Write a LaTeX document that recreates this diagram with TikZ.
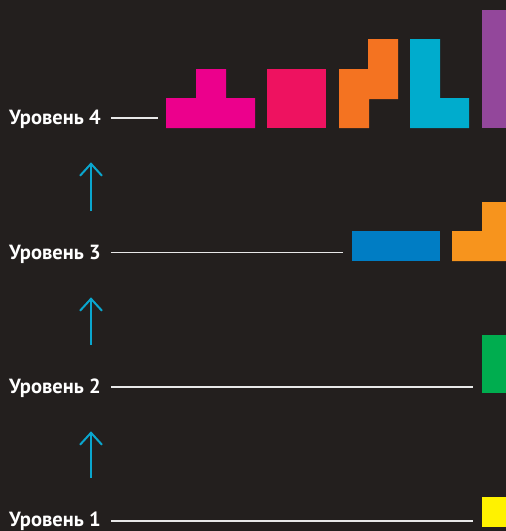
\documentclass[tikz,border=0pt]{standalone}
\usepackage{fontspec}
\setmainfont{PT Sans}
\usetikzlibrary{arrows.meta}
\definecolor{bgdark}{HTML}{231F1E}
\definecolor{tmagenta}{HTML}{EC008C}
\definecolor{ored}{HTML}{EE1260}
\definecolor{sorange}{HTML}{F47321}
\definecolor{lcyan}{HTML}{00ACCD}
\definecolor{ipurple}{HTML}{93479B}
\definecolor{iblue}{HTML}{007DC4}
\definecolor{jorange}{HTML}{F7941D}
\definecolor{igreen}{HTML}{00AD4F}
\definecolor{oyellow}{HTML}{FFF200}
\definecolor{arrowcyan}{HTML}{0AA6CE}
\definecolor{linegray}{HTML}{E8E8E8}

\begin{document}
\begin{tikzpicture}[x=1pt,y=-1pt,font=\bfseries\fontsize{20.5}{24}\selectfont,
  level/.style={anchor=base west,text=white,inner sep=0pt},
  levelline/.style={draw=linegray,line width=1.3pt},
  uparrow/.style={draw=arrowcyan,line width=2pt,shorten <=33pt,shorten >=34pt,-{Straight Barb[length=12pt,width=22pt]}}]
\fill[bgdark] (0,0) rectangle (506,531);
\useasboundingbox (0,0) rectangle (506,531);
\fill[tmagenta] (166,98) rectangle (255,128) (196,69) rectangle (226,98);
\fill[ored] (267,69) rectangle (326,128);
\fill[sorange] (339,69) rectangle (369,128) (368,39) rectangle (398,99);
\fill[lcyan] (410,39) rectangle (440,128) (439,98) rectangle (469,128);
\fill[ipurple] (482,10) rectangle (506,128);
\fill[iblue] (352,231) rectangle (440,261);
\fill[jorange] (452,231) rectangle (506,261) (482,202) rectangle (506,232);
\fill[igreen] (482,335) rectangle (506,393);
\fill[oyellow] (482,497) rectangle (506,527);
\node[level] (lvl4) at (9,124) {Уровень 4};
\node[level] (lvl3) at (9,259) {Уровень 3};
\node[level] (lvl2) at (9,393) {Уровень 2};
\node[level] (lvl1) at (9,526) {Уровень 1};
\coordinate (end4) at (158,118);
\coordinate (end3) at (343,252.5);
\coordinate (end2) at (473,387);
\coordinate (end1) at (473,521);
\draw[levelline] ([xshift=10pt]lvl4.east |- end4) -- (end4);
\draw[levelline] ([xshift=10pt]lvl3.east |- end3) -- (end3);
\draw[levelline] ([xshift=10pt]lvl2.east |- end2) -- (end2);
\draw[levelline] ([xshift=10pt]lvl1.east |- end1) -- (end1);
\draw[uparrow] ([xshift=82pt]lvl3.north west) -- ([xshift=82pt]lvl4.south west);
\draw[uparrow] ([xshift=82pt]lvl2.north west) -- ([xshift=82pt]lvl3.south west);
\draw[uparrow] ([xshift=82pt]lvl1.north west) -- ([xshift=82pt]lvl2.south west);
\end{tikzpicture}
\end{document}
